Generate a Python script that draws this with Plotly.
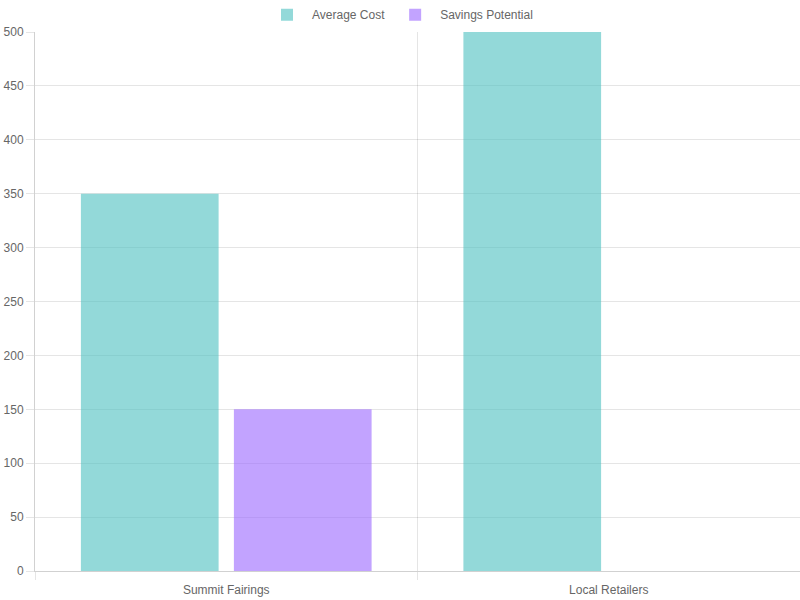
import plotly.graph_objects as go

categories = ["Summit Fairings", "Local Retailers"]
average_cost = [350, 500]
savings_potential = [150, 0]

teal = "rgba(75,192,192,0.6)"
purple = "rgba(153,102,255,0.6)"

fig = go.Figure()
fig.add_trace(go.Bar(name="Average Cost", x=categories, y=average_cost,
                     marker=dict(color=teal, line=dict(width=0))))
fig.add_trace(go.Bar(name="Savings Potential", x=categories, y=savings_potential,
                     marker=dict(color=purple, line=dict(width=0))))

grid = "rgba(0,0,0,0.1)"
axis_line = "rgba(0,0,0,0.18)"
fig.update_layout(
    width=800, height=600,
    margin=dict(l=35, r=0, t=32, b=29, autoexpand=False),
    barmode="group", bargap=0.2, bargroupgap=0.1,
    plot_bgcolor="white", paper_bgcolor="white",
    font=dict(family="Liberation Sans, Arial, sans-serif", size=12, color="#666"),
    legend=dict(orientation="h", xref="container", x=0.5, xanchor="center",
                y=1.005, yanchor="bottom",
                font=dict(size=12, color="#666"), itemwidth=40, tracegroupgap=0),
    xaxis=dict(type="category", tickson="boundaries", showgrid=True, gridcolor=grid,
               ticks="outside", ticklen=8, tickcolor=grid, showline=True, linecolor=axis_line,
               zeroline=False, automargin=False, ticklabelstandoff=8),
    yaxis=dict(range=[0, 500], dtick=50, showgrid=True, gridcolor=grid,
               ticks="outside", ticklen=8, tickcolor=grid, showline=True, linecolor=axis_line,
               zeroline=False, automargin=False),
)
fig.write_html("out.html", config={"displayModeBar": False},
               post_script="document.body.style.margin='0';document.body.style.padding='0';")
